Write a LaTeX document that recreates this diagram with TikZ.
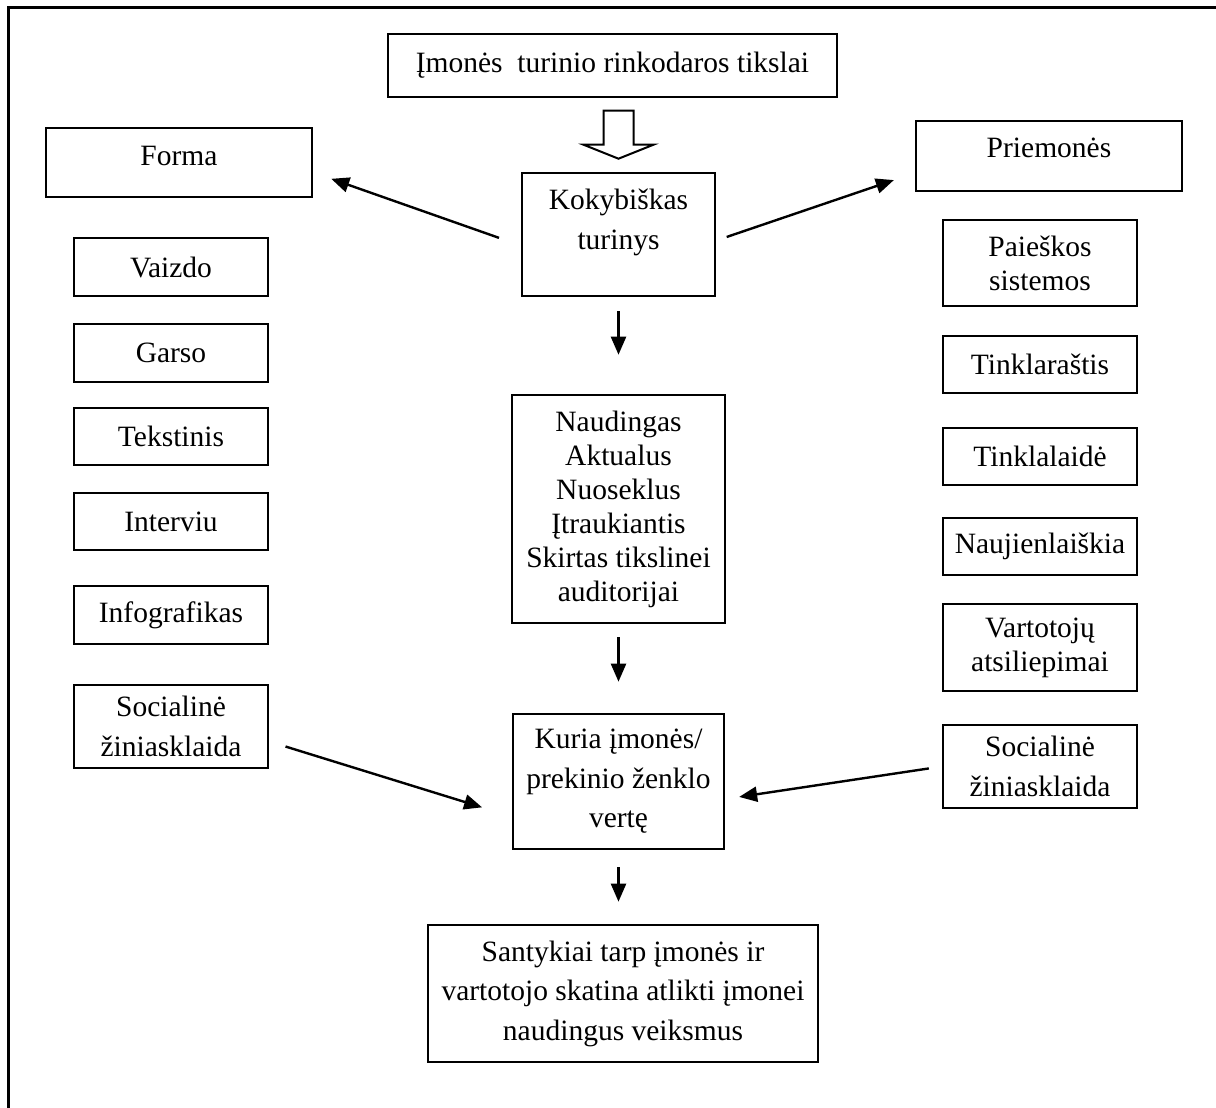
\documentclass[tikz,border=0pt]{standalone}
\usepackage{fontspec}
\setmainfont{Liberation Serif}
\usetikzlibrary{arrows.meta,calc}
\newcommand\boxfont{\fontsize{29.5}{34}\selectfont}
\newcommand\loosefont{\fontsize{29.5}{39.5}\selectfont}
\begin{document}
\begin{tikzpicture}[x=1pt,y=-1pt,
  box/.style={draw, line width=2.6pt, inner sep=0pt, align=center, font=\boxfont},
  loose/.style={font=\loosefont},
  txt/.style={inner sep=0pt, align=center, font=\boxfont},
  arr/.style={line width=2.4pt, -{Triangle[length=18pt,width=15pt]}},
  frame/.style={line width=3pt}]
\useasboundingbox (0,0) rectangle (1216,1108);

% open frame: left and top edges only
\coordinate (fbl) at (8,1108);
\coordinate (ftl) at (8,8);
\coordinate (ftr) at (1216,8);
\draw[frame] (fbl) -- (ftl) -- (ftr);

% central column
\node[box, minimum width=449pt, minimum height=63pt] (goal) at (612.5,65.5) {Įmonės~ turinio rinkodaros tikslai};
\node[box, minimum width=193pt, minimum height=123pt] (kok) at (618.5,234.5) {};
\node[txt, loose] (kokT) at ([yshift=12pt]kok.center) {Kokybiškas\\turinys};
\node[box, minimum width=213pt, minimum height=228pt] (naud) at (618.5,509) {Naudingas\\Aktualus\\Nuoseklus\\Įtraukiantis\\Skirtas tikslinei\\auditorijai};
\node[box, loose, minimum width=211pt, minimum height=135pt] (kuria) at (618.5,781.5) {Kuria įmonės/\\prekinio ženklo\\vertę};
\node[box, loose, minimum width=390pt, minimum height=137pt] (sant) at (623,993.5) {Santykiai tarp įmonės ir\\vartotojo skatina atlikti įmonei\\naudingus veiksmus};

% headings
\node[box, minimum width=266pt, minimum height=69pt] (forma) at (179,162.5) {};
\node[txt] (formaT) at ([yshift=7pt]forma.center) {Forma};
\node[box, minimum width=266pt, minimum height=70pt] (prie) at (1049,156) {};
\node[txt] (prieT) at ([yshift=8pt]prie.center) {Priemonės};

% left column: forms
\node[box, minimum width=194pt, minimum height=58pt] (vaizdo) at (171,267) {Vaizdo};
\node[box, minimum width=194pt, minimum height=58pt] (garso) at (171,353) {Garso};
\node[box, minimum width=194pt, minimum height=57pt] (tekst) at (171,436.5) {Tekstinis};
\node[box, minimum width=194pt, minimum height=57pt] (interv) at (171,521.5) {Interviu};
\node[box, minimum width=194pt, minimum height=58pt] (info) at (171,615) {Infografikas};
\node[box, loose, minimum width=194pt, minimum height=83pt] (socL) at (171,726.5) {Socialinė\\žiniasklaida};

% right column: channels
\node[box, minimum width=194pt, minimum height=86pt] (paie) at (1040,263) {Paieškos\\sistemos};
\node[box, minimum width=194pt, minimum height=57pt] (tinklar) at (1040,364.5) {Tinklaraštis};
\node[box, minimum width=194pt, minimum height=57pt] (tinklal) at (1040,456.5) {Tinklalaidė};
\node[box, minimum width=194pt, minimum height=57pt] (nauj) at (1040,546.5) {Naujienlaiškia};
\node[box, minimum width=194pt, minimum height=87pt] (vart) at (1040,647.5) {Vartotojų\\atsiliepimai};
\node[box, loose, minimum width=194pt, minimum height=83pt] (socR) at (1040,766.5) {Socialinė\\žiniasklaida};

% hollow block arrow from goals to quality content
\coordinate (hb) at (kok.north);
\draw[line width=2pt, line join=miter]
  ($(hb)+(-15,-61)$) -- ($(hb)+(15,-61)$) -- ($(hb)+(15,-27)$) -- ($(hb)+(35,-27)$)
  -- ($(hb)+(0,-13)$) -- ($(hb)+(-35,-27)$) -- ($(hb)+(-15,-27)$) -- cycle;

% connectors
\draw[arr, shorten <=23pt, shorten >=19pt] ([yshift=-11pt]kok.west) -- ([yshift=-10pt]forma.east);
\draw[arr, shorten <=11pt, shorten >=22pt] ([yshift=-6pt]kok.east) -- ([yshift=-17pt]prie.west);
\draw[arr, shorten <=14pt, shorten >=39pt] (kok.south) -- (naud.north);
\draw[arr, shorten <=13pt, shorten >=31pt] (naud.south) -- (kuria.north);
\draw[arr, shorten <=17pt, shorten >=22pt] (kuria.south) -- (kuria.south |- sant.north);
\draw[arr, shorten <=17pt, shorten >=31pt] ([yshift=-15pt]socL.east) -- ([yshift=-35pt]kuria.west);
\draw[arr, shorten <=13pt, shorten >=14pt] (socR.west) -- ([yshift=-17.5pt]kuria.east);
\end{tikzpicture}
\end{document}
